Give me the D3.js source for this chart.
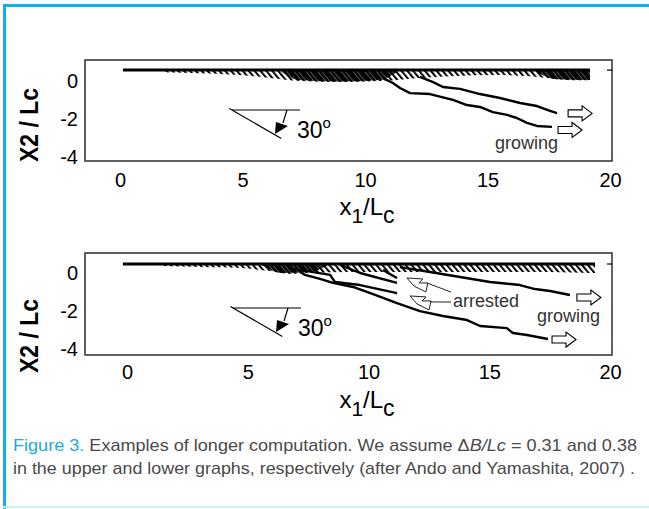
<!DOCTYPE html>
<html>
<head>
<meta charset="utf-8">
<script src="https://cdn.jsdelivr.net/npm/d3@7/dist/d3.min.js"></script>
<style>
  html, body { margin: 0; padding: 0; background: #fff; }
  svg { display: block; }
  text { font-family: "Liberation Sans", Arial, sans-serif; }
</style>
</head>
<body>
<svg id="fig" width="649" height="509"></svg>
<script>
// ----- shared axis ticks -----
const xTicks = [0, 5, 10, 15, 20];
const yTicks = [0, -2, -4];

// ----- upper graph (ΔB/Lc = 0.31) -----
const surfaceA = [[0.12, 0.6], [19.18, 0.6]];
// lower edge of the en-echelon damage zone under the fault trace
const damageFloorA = [[1.76, 0.49], [3.27, 0.44], [4.90, 0.34], [6.12, 0.18], [7.35, 0.02], [8.98, -0.03],
  [10.61, 0.02], [12.24, 0.18], [13.47, 0.28], [15.51, 0.34], [16.73, 0.28], [17.55, 0.18], [18.37, 0.07], [19.18, 0.07]];
// densely cracked patches
const damageCoreA = [
  [[6.6, 0.5], [7.3, 0.08], [9.0, 0.0], [10.6, 0.08], [11.3, 0.5]],
  [[17.0, 0.5], [17.8, 0.12], [19.18, 0.08]]
];
const cracksA = [
  [[10.73, 0.18], [11.14, -0.08], [11.43, -0.34], [11.84, -0.61], [12.65, -0.66], [13.59, -0.97], [14.16, -1.24],
   [14.69, -1.34], [15.22, -1.61], [15.80, -1.76], [16.20, -1.92], [16.61, -2.18], [17.02, -2.34], [17.63, -2.39]],
  [[12.24, 0.24], [12.78, -0.03], [13.18, -0.29], [13.88, -0.39], [14.69, -0.66], [15.51, -0.87], [16.33, -1.13],
   [17.02, -1.29], [17.55, -1.55], [17.84, -1.66]]
];
const growArrowsA = [[18.29, -1.68], [17.88, -2.55]];
const labelsA = [{ text: "growing", x: 15.31, y: -3.57 }];
const angleA = { x: 4.57, y: -1.5, deg: 30 };

// ----- lower graph (ΔB/Lc = 0.38) -----
const surfaceB = [[-0.17, 0.47], [19.38, 0.47]];
const damageFloorB = [[1.49, 0.37], [3.02, 0.31], [4.68, 0.26], [5.92, 0.10], [6.75, -0.05], [7.58, 0.0], [9.23, 0.05],
  [11.30, 0.05], [13.37, 0.05], [15.45, 0.05], [17.52, 0.05], [19.17, 0.0], [19.38, 0.0]];
const damageCoreB = [
  [[5.6, 0.4], [6.4, 0.0], [7.6, 0.05], [8.3, 0.4]]
];
const cracksB = [
  // growing, deeper
  [[6.96, 0.26], [7.37, -0.10], [7.99, -0.31], [8.53, -0.52], [9.36, -0.73], [10.19, -1.10], [11.18, -1.57],
   [12.13, -1.99], [13.08, -2.25], [14.08, -2.46], [14.62, -2.77], [15.73, -2.88], [15.98, -3.14], [16.56, -3.24], [17.43, -3.45]],
  // growing, shallower
  [[11.30, 0.31], [12.55, 0.05], [13.79, -0.21], [15.03, -0.47], [16.27, -0.63], [16.89, -0.84], [17.52, -0.94], [18.34, -1.15]],
  // arrested
  [[7.16, 0.16], [8.41, -0.10], [8.61, -0.47], [9.65, -0.63], [11.18, -1.05]],
  [[8.82, 0.42], [9.65, 0.0], [11.18, -0.52]],
  [[10.60, 0.16], [11.18, -0.26]]
];
const growArrowsB = [[18.63, -1.28], [17.60, -3.48]];
const arrestArrowsB = [[11.59, -0.26], [11.72, -1.20]];
const labelsB = [{ text: "growing", x: 16.98, y: -2.56 }, { text: "arrested", x: 13.50, y: -1.78 }];
const angleB = { x: 4.39, y: -1.83, deg: 30 };

// ----- drawing -----
const svg = d3.select("#fig");
const defs = svg.append("defs");

function hatch(id, period, width) {
  const p = defs.append("pattern")
    .attr("id", id).attr("patternUnits", "userSpaceOnUse")
    .attr("width", period).attr("height", period)
    .attr("patternTransform", "rotate(-40)");
  p.append("rect").attr("width", width).attr("height", period).attr("fill", "#000");
}
hatch("hatchSparse", 4.5, 2.0);
hatch("hatchDense", 3, 2.6);

// page frame
svg.append("line").attr("x1", 3).attr("x2", 649).attr("y1", 5.5).attr("y2", 5.5)
  .attr("stroke", "#0db1ee").attr("stroke-width", 3);
svg.append("line").attr("x1", 4.5).attr("x2", 4.5).attr("y1", 4).attr("y2", 509)
  .attr("stroke", "#0db1ee").attr("stroke-width", 3);
svg.append("line").attr("x1", 3).attr("x2", 649).attr("y1", 507).attr("y2", 507)
  .attr("stroke", "#c9eff9").attr("stroke-width", 2);

const panels = [
  { box: [85, 612, 60, 161], xr: [120, 610], yr: [81.5, 157.5], ylabY: 125, xlabBase: 215,
    surface: surfaceA, floor: damageFloorA, core: damageCoreA, cracks: cracksA,
    grow: growArrowsA, arrest: [], labels: labelsA, angle: angleA, xPad: 12 },
  { box: [85, 612, 253, 355], xr: [127, 610], yr: [273, 349.5], ylabY: 336, xlabBase: 408,
    surface: surfaceB, floor: damageFloorB, core: damageCoreB, cracks: cracksB,
    grow: growArrowsB, arrest: arrestArrowsB, labels: labelsB, angle: angleB, xPad: 10 }
];

panels.forEach(P => {
  const [bx0, bx1, by0, by1] = P.box;
  const x = d3.scaleLinear().domain([0, 20]).range(P.xr);
  const y = d3.scaleLinear().domain([0, -4]).range(P.yr);
  const g = svg.append("g");

  g.append("rect").attr("x", bx0).attr("y", by0).attr("width", bx1 - bx0).attr("height", by1 - by0)
    .attr("fill", "none").attr("stroke", "#3a3a3a").attr("stroke-width", 1.6);

  // axes: labels only
  const ax = g.append("g").attr("transform", `translate(0,${by1})`)
    .call(d3.axisBottom(x).tickValues(xTicks).tickSize(0).tickPadding(P.xPad).tickFormat(d => String(d)));
  ax.select(".domain").remove();
  ax.selectAll("text").attr("font-size", 20).attr("fill", "#000").attr("font-family", "Liberation Sans, Arial, sans-serif");

  const ay = g.append("g").attr("transform", `translate(${bx0},0)`)
    .call(d3.axisLeft(y).tickValues(yTicks).tickSize(0).tickPadding(7).tickFormat(d => String(d)));
  ay.select(".domain").remove();
  ay.selectAll("text").attr("font-size", 20).attr("fill", "#000").attr("font-family", "Liberation Sans, Arial, sans-serif");

  // axis titles
  g.append("text").attr("transform", `translate(38,${P.ylabY}) rotate(-90)`)
    .attr("text-anchor", "middle").attr("font-size", 25).attr("font-weight", "bold")
    .attr("textLength", 74).attr("lengthAdjust", "spacingAndGlyphs")
    .text("X2 / Lc");
  const xl = g.append("text").attr("x", 367).attr("y", P.xlabBase).attr("text-anchor", "middle").attr("font-size", 24);
  xl.append("tspan").text("x");
  xl.append("tspan").attr("font-size", 21).attr("dy", 8).text("1");
  xl.append("tspan").attr("dy", -8).text("/L");
  xl.append("tspan").attr("font-size", 23).attr("dy", 8).text("c");

  const surfY = y(P.surface[0][1]);

  // damage zone
  const area = d3.area().x(d => x(d[0])).y0(surfY).y1(d => y(d[1])).curve(d3.curveMonotoneX);
  g.append("path").datum(P.floor).attr("d", area).attr("fill", "url(#hatchSparse)");
  P.core.forEach(c => g.append("path").datum(c).attr("d", area).attr("fill", "url(#hatchDense)"));

  // fault trace
  const line = d3.line().x(d => x(d[0])).y(d => y(d[1]));
  g.append("path").datum(P.surface).attr("d", line).attr("stroke", "#000").attr("stroke-width", 3).attr("fill", "none");
  g.append("line").attr("x1", bx1 - 5).attr("x2", bx1).attr("y1", surfY).attr("y2", surfY)
    .attr("stroke", "#000").attr("stroke-width", 1.2);

  // branch cracks
  P.cracks.forEach(c => g.append("path").datum(c).attr("d", line)
    .attr("stroke", "#000").attr("stroke-width", 2.4).attr("fill", "none").attr("stroke-linejoin", "round"));

  // open arrows for growing tips
  const blockArrow = "M0,-3.5 L14,-3.5 L14,-7.5 L24,0 L14,7.5 L14,3.5 L0,3.5 Z";
  P.grow.forEach(a => g.append("path").attr("d", blockArrow)
    .attr("transform", `translate(${x(a[0])},${y(a[1])})`)
    .attr("fill", "#fff").attr("stroke", "#000").attr("stroke-width", 1.1));

  // zigzag arrows for arrested tips, with leaders to the label
  const zig = "M0,0 L16,1 L12,5 L21,5 L19,14 L7,8 Z";
  P.arrest.forEach((a, i) => {
    const ax0 = x(a[0]), ay0 = y(a[1]);
    g.append("path").attr("d", zig).attr("transform", `translate(${ax0},${ay0})`)
      .attr("fill", "#fff").attr("stroke", "#222").attr("stroke-width", 1);
    const lab = P.labels.find(l => l.text === "arrested");
    g.append("line").attr("x1", ax0 + 20).attr("y1", ay0 + (i === 0 ? 5 : 6))
      .attr("x2", x(lab.x) - 2).attr("y2", y(lab.y) - (i === 0 ? 15 : 5))
      .attr("stroke", "#222").attr("stroke-width", 1);
  });

  P.labels.forEach(l => g.append("text").attr("x", x(l.x)).attr("y", y(l.y))
    .attr("font-size", 18).attr("fill", "#333").text(l.text));

  // 30-degree angle marker
  const vx = x(P.angle.x), vy = y(P.angle.y);
  const rad = P.angle.deg * Math.PI / 180;
  const ag = g.append("g").attr("transform", `translate(${vx},${vy})`);
  ag.append("line").attr("x1", 0).attr("y1", 0).attr("x2", 68).attr("y2", 0).attr("stroke", "#000").attr("stroke-width", 1.2);
  ag.append("line").attr("x1", -3 * Math.cos(rad)).attr("y1", -3 * Math.sin(rad))
    .attr("x2", 57 * Math.cos(rad)).attr("y2", 57 * Math.sin(rad)).attr("stroke", "#000").attr("stroke-width", 1.2);
  ag.append("path").attr("d", "M55,0 L51,13").attr("stroke", "#000").attr("stroke-width", 1.2).attr("fill", "none");
  ag.append("path").attr("d", "M43,24 L44,12 L56,16 Z").attr("fill", "#000");
  const at = ag.append("text").attr("x", 65).attr("y", 28).attr("font-size", 23).attr("fill", "#000");
  at.append("tspan").text(String(P.angle.deg));
  at.append("tspan").attr("font-size", 15).attr("dy", -10).text("o");
});

// caption
const cap1 = svg.append("text").attr("x", 13).attr("y", 451).attr("font-size", 17)
  .attr("font-family", "Roboto, 'Liberation Sans', sans-serif").attr("font-weight", 300)
  .attr("textLength", 624).attr("lengthAdjust", "spacingAndGlyphs").attr("fill", "#4a4a4a");
cap1.append("tspan").attr("fill", "#1fa9e1").text("Figure 3.");
cap1.append("tspan").text(" Examples of longer computation. We assume \u0394");
cap1.append("tspan").attr("font-style", "italic").text("B/Lc");
cap1.append("tspan").text(" = 0.31 and 0.38");
svg.append("text").attr("x", 13).attr("y", 474).attr("font-size", 17)
  .attr("font-family", "Roboto, 'Liberation Sans', sans-serif").attr("font-weight", 300)
  .attr("textLength", 622).attr("lengthAdjust", "spacingAndGlyphs").attr("fill", "#4a4a4a")
  .text("in the upper and lower graphs, respectively (after Ando and Yamashita, 2007) .");
</script>
</body>
</html>
